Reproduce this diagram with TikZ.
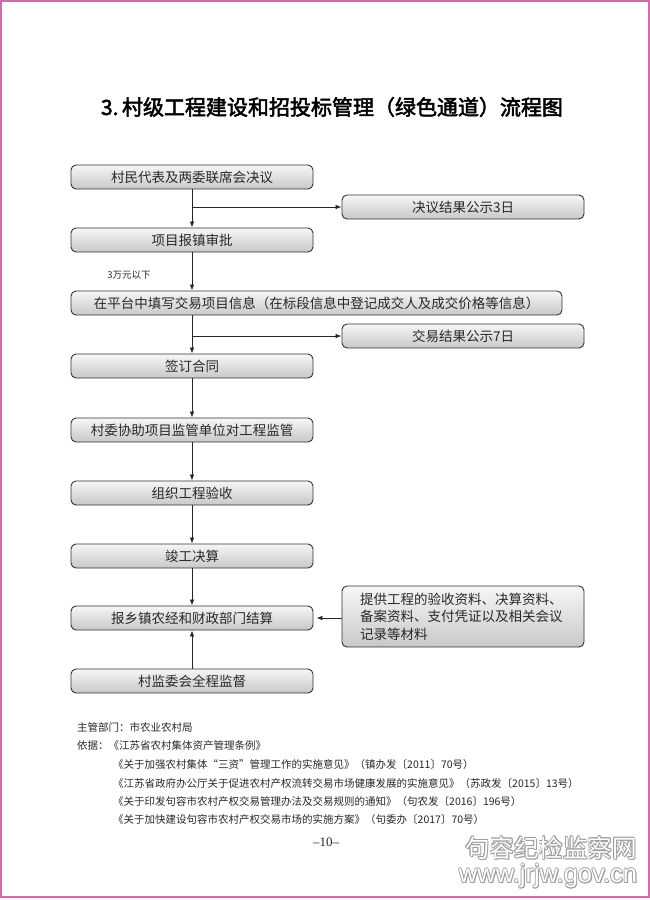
\documentclass[tikz,border=0pt]{standalone}
\usepackage{fontspec}
\setmainfont{Liberation Serif}
\newfontfamily\cjk{Noto Sans CJK SC}
\newfontfamily\cjkbold[FakeBold=2.5]{Noto Sans CJK SC}
\newfontfamily\wmfont{Liberation Sans}
\usetikzlibrary{arrows.meta}
\definecolor{pagepink}{RGB}{214,104,176}
\definecolor{boxline}{RGB}{50,50,50}
\definecolor{boxtop}{RGB}{246,246,246}
\definecolor{boxbot}{RGB}{200,200,200}
\definecolor{txt}{RGB}{40,40,40}
\tikzset{
  flowbox/.style={draw=boxline, line width=0.9pt, rounded corners=5pt,
    top color=boxtop, bottom color=boxbot, minimum height=24pt, inner sep=0pt,
    text=txt, font=\cjk\fontsize{13.5}{16}\selectfont},
  leftbox/.style={flowbox, minimum width=242pt},
  rightbox/.style={flowbox, minimum width=242pt},
  arr/.style={draw=black!85, line width=0.8pt, -{Latex[length=6pt,width=4.5pt]}},
  foot/.style={anchor=west, inner sep=0pt, text=txt, font=\cjk\fontsize{10.5}{12}\selectfont},
  wmshadow/.style={inner sep=0pt, text=gray!75},
  wmtext/.style={inner sep=0pt, text=white}
}
\newcommand{\wmark}[3]{%
  \foreach \dx/\dy in {-0.7/0,0.7/0,0/-0.7,0/0.7,-0.5/-0.5,0.5/0.5,-0.5/0.5,0.5/-0.5,1.2/1.2}{%
    \node[wmshadow, font=#3] at ([shift={(\dx,\dy)}]#1) {#2};}
  \node[wmtext, font=#3] at (#1) {#2};}
\begin{document}
\begin{tikzpicture}[x=1pt,y=-1pt]
\useasboundingbox (0,0) rectangle (650,900);
\fill[white] (0,0) rectangle (650,900);
\draw[pagepink, line width=1.6pt] (1,1) rectangle (648.8,897);

% title
\node[inner sep=0pt, font=\cjkbold\fontsize{21}{24}\selectfont, text=black] (title) at (332,107)
  {3.\,村级工程建设和招投标管理（绿色通道）流程图};

% flow boxes
\node[leftbox] (b1) at (192,177) {村民代表及两委联席会决议};
\node[rightbox] (r1) at (463,207) {决议结果公示3日};
\node[leftbox] (b2) at (192,240) {项目报镇审批};
\node[flowbox, minimum width=491pt] (b3) at (316.5,303) {在平台中填写交易项目信息（在标段信息中登记成交人及成交价格等信息）};
\node[rightbox] (r2) at (463,336) {交易结果公示7日};
\node[leftbox] (b4) at (192,366) {签订合同};
\node[leftbox] (b5) at (192,430) {村委协助项目监管单位对工程监管};
\node[leftbox] (b6) at (192,493) {组织工程验收};
\node[leftbox] (b7) at (192,556) {竣工决算};
\node[leftbox] (b8) at (192,618) {报乡镇农经和财政部门结算};
\node[rightbox, minimum height=61pt, text width=206pt, align=left,
  font=\cjk\fontsize{13.5}{17.5}\selectfont] (r3) at (463,616.5)
  {提供工程的验收资料、决算资料、\\备案资料、支付凭证以及相关会议\\记录等材料};
\node[leftbox] (b9) at (192,681) {村监委会全程监督};

\node[inner sep=0pt, font=\cjk\fontsize{9.5}{11}\selectfont, text=txt] (lbl) at (129,275) {3万元以下};

% connectors
\draw[arr] (b1.south) -- (b2.north);
\draw[arr] (b1.south |- r1.west) -- (r1.west);
\draw[arr] (b2.south) -- (b2.south |- b3.north);
\draw[arr] (b3.south -| b4.north) -- (b4.north);
\draw[arr] (b4.north |- r2.west) -- (r2.west);
\draw[arr] (b4.south) -- (b5.north);
\draw[arr] (b5.south) -- (b6.north);
\draw[arr] (b6.south) -- (b7.north);
\draw[arr] (b7.south) -- (b8.north);
\draw[arr] (r3.west |- b8.east) -- ([xshift=3pt]b8.east);
\draw[arr] (b9.north) -- (b8.south);

% footer
\node[foot] (f1) at (77,727) {主管部门：市农业农村局};
\node[foot] (f2) at (77,746) {依据：《江苏省农村集体资产管理条例》};
\node[foot] (f3) at (113,765) {《关于加强农村集体“三资”管理工作的实施意见》（镇办发〔2011〕70号）};
\node[foot] (f4) at (113,783) {《江苏省政府办公厅关于促进农村产权流转交易市场健康发展的实施意见》（苏政发〔2015〕13号）};
\node[foot] (f5) at (113,801) {《关于印发句容市农村产权交易管理办法及交易规则的通知》（句农发〔2016〕196号）};
\node[foot] (f6) at (113,819) {《关于加快建设句容市农村产权交易市场的实施方案》（句委办〔2017〕70号）};

\node[inner sep=0pt, font=\fontsize{13}{15}\selectfont, text=txt] (pg) at (326,842) {–10–};

% watermark (outlined text)
\coordinate (w1) at (551,848);
\coordinate (w2) at (548,876);
\wmark{w1}{句容纪检监察网}{\cjk\fontsize{24.5}{28}\selectfont}
\wmark{w2}{www.jrjw.gov.cn}{\wmfont\fontsize{25.5}{28}\selectfont}
\end{tikzpicture}
\end{document}
